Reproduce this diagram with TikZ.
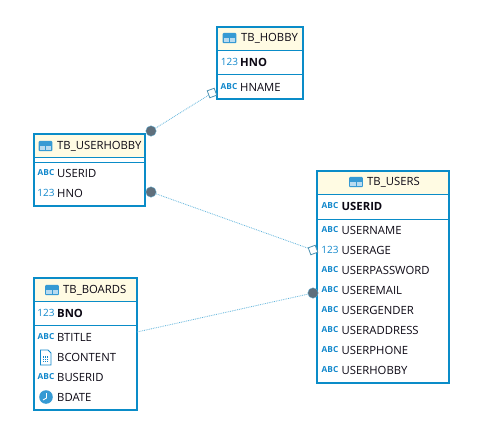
\documentclass[tikz,border=0pt]{standalone}
\usepackage{fontspec}
\setmainfont{Open Sans}
\usetikzlibrary{shapes.geometric,calc}
\definecolor{bdr}{HTML}{0A8CC8}
\definecolor{hdr}{HTML}{FFFBE3}
\definecolor{ico}{HTML}{1288CC}
\definecolor{lnk}{HTML}{5FB4DC}
\definecolor{dotc}{HTML}{5F6F7C}
\definecolor{txtc}{HTML}{0C0814}
\tikzset{
  x=1pt,y=-1pt,
  entity/.style={draw=bdr,line width=2.4pt,rectangle,inner sep=0pt,outer sep=0pt,anchor=north west},
  rowline/.style={draw=bdr,line width=0.9pt},
  coltext/.style={font=\fontsize{11.3}{13}\selectfont,text=txtc,anchor=west,inner sep=0pt},
  keytext/.style={coltext,font=\fontsize{11.3}{13}\selectfont\bfseries},
  abc/.style={font=\fontsize{8.3}{9}\selectfont\bfseries,text=ico,anchor=center,inner sep=0pt},
  num/.style={font=\fontsize{10}{12}\selectfont,text=ico,anchor=center,inner sep=0pt},
  link/.style={draw=lnk,line width=0.8pt,densely dotted},
  one/.style={circle,fill=dotc,draw=lnk,line width=0.3pt,minimum size=10.5pt,inner sep=0pt},
  many/.style={rectangle,rotate=20,fill=white,draw=lnk!80!black,line width=0.8pt,minimum size=7.4pt,inner sep=0pt},
}
\newcommand{\tblicon}[2]{%
  \fill[ico!85!white,rounded corners=1pt] (#1-6.8,#2-5.2) rectangle (#1+6.8,#2+5.2);
  \fill[ico!30!white] (#1-5.6,#2+0.3) rectangle (#1-0.5,#2+4.1);
  \fill[ico!30!white] (#1+0.5,#2+0.3) rectangle (#1+5.6,#2+4.1);
}
\begin{document}
\begin{tikzpicture}
\useasboundingbox (0,0) rectangle (483,442);
\fill[white] (0,0) rectangle (483,442);

% --- TB_HOBBY
\fill[hdr] (217,28) rectangle (303,50);
\draw[rowline] (217,50) -- (303,50);
\draw[rowline] (217,74) -- (303,74);
\node[entity,minimum width=86pt,minimum height=72pt] (hobby) at (217,27) {};
\tblicon{229.5}{38}
\node[coltext] (hobbyT) at (241,38) {TB\_HOBBY};
\node[num] (h1i) at (229.5,62) {123};
\node[keytext] (h1) at (240,62) {HNO};
\node[abc] (h2i) at (229,87) {ABC};
\node[coltext] (h2) at (240,87) {HNAME};

% --- TB_USERHOBBY
\fill[hdr] (34,135) rectangle (145,157);
\draw[rowline] (34,157) -- (145,157);
\draw[rowline] (34,162) -- (145,162);
\node[entity,minimum width=111pt,minimum height=72pt] (uh) at (34,134) {};
\tblicon{45.5}{146}
\node[coltext] (uhT) at (57,146) {TB\_USERHOBBY};
\node[abc] (uh1i) at (46,173) {ABC};
\node[coltext] (uh1) at (57,173) {USERID};
\node[num] (uh2i) at (46,193) {123};
\node[coltext] (uh2) at (57,193) {HNO};

% --- TB_BOARDS
\fill[hdr] (34,279) rectangle (137,301);
\draw[rowline] (34,301) -- (137,301);
\draw[rowline] (34,325) -- (137,325);
\node[entity,minimum width=103pt,minimum height=132pt] (bd) at (34,278) {};
\tblicon{52}{290}
\node[coltext] (bdT) at (63,290) {TB\_BOARDS};
\node[num] (b1i) at (46,313) {123};
\node[keytext] (b1) at (57,313) {BNO};
\node[abc] (b2i) at (46,337) {ABC};
\node[coltext] (b2) at (57,337) {BTITLE};
\draw[ico,line width=0.8pt,fill=white] (40.5,350) -- (48,350) -- (51,353) -- (51,365) -- (40.5,365) -- cycle;
\fill[ico] (42.5,356) rectangle (49,363);
\foreach \a in {43.8,46,48.2}{\draw[white,line width=0.5pt] (\a,356) -- (\a,363);}
\foreach \a in {357.8,360,362}{\draw[white,line width=0.5pt] (42.5,\a) -- (49,\a);}
\node[coltext] (b3) at (57,357) {BCONTENT};
\node[abc] (b4i) at (46,377) {ABC};
\node[coltext] (b4) at (57,377) {BUSERID};
\fill[ico!85!white] (46,397) circle (6.8);
\draw[white,line width=0.9pt] (46.5,393) -- (46.5,398) -- (43,400);
\node[coltext] (b5) at (57,397) {BDATE};

% --- TB_USERS
\fill[hdr] (317,172) rectangle (449,194);
\draw[rowline] (317,194) -- (449,194);
\draw[rowline] (317,219) -- (449,219);
\node[entity,minimum width=132pt,minimum height=212pt] (us) at (317,171) {};
\tblicon{356}{182}
\node[coltext] (usT) at (367,182) {TB\_USERS};
\node[abc] (u1i) at (330,206) {ABC};
\node[keytext] (u1) at (341.5,206) {USERID};
\node[abc] (u2i) at (330,230) {ABC};
\node[coltext] (u2) at (341.5,230) {USERNAME};
\node[num] (u3i) at (330,250) {123};
\node[coltext] (u3) at (341.5,250) {USERAGE};
\node[abc] (u4i) at (330,270) {ABC};
\node[coltext] (u4) at (341.5,270) {USERPASSWORD};
\node[abc] (u5i) at (330,290) {ABC};
\node[coltext] (u5) at (341.5,290) {USEREMAIL};
\node[abc] (u6i) at (330,310) {ABC};
\node[coltext] (u6) at (341.5,310) {USERGENDER};
\node[abc] (u7i) at (330,330) {ABC};
\node[coltext] (u7) at (341.5,330) {USERADDRESS};
\node[abc] (u8i) at (330,350) {ABC};
\node[coltext] (u8) at (341.5,350) {USERPHONE};
\node[abc] (u9i) at (330,370) {ABC};
\node[coltext] (u9) at (341.5,370) {USERHOBBY};

% --- connector ends
\node[many] (m1) at (212,93) {};
\node[one] (o1) at (151,131) {};
\node[many] (m2) at (313,250) {};
\node[one] (o2) at (151,192) {};
\node[one] (o3) at (313,293) {};

\draw[link] (o1) -- (m1);
\draw[link] (o2) -- (m2);
\draw[link] (bd.east |- 0,332) -- (o3);
\end{tikzpicture}
\end{document}
